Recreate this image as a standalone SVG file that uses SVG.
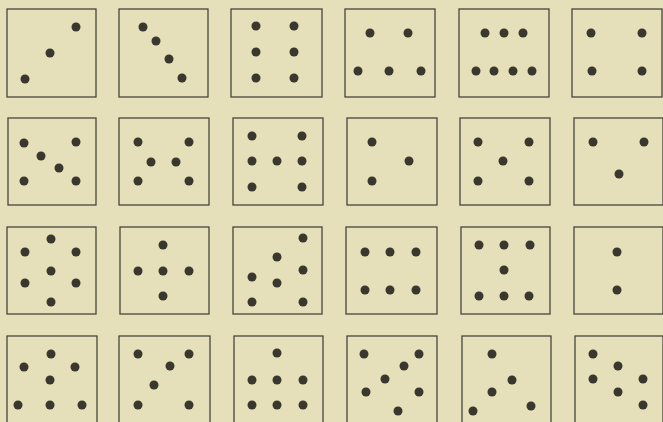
<svg xmlns="http://www.w3.org/2000/svg" width="663" height="422" viewBox="0 0 663 422">
<style>
.card{fill:none;stroke:#47453d;stroke-width:1.3}
.d{fill:#3a372e}
</style>
<defs><circle id="p" r="4.5" class="d"/></defs>
<rect width="663" height="422" fill="#e5dfba"/>
<g id="r1c1"><rect class="card" x="7" y="9" width="89" height="88"/><use href="#p" x="76" y="27"/><use href="#p" x="50" y="53"/><use href="#p" x="25" y="79"/></g>
<g id="r1c2"><rect class="card" x="119" y="9" width="89" height="88"/><use href="#p" x="143" y="27"/><use href="#p" x="156" y="41"/><use href="#p" x="169" y="59"/><use href="#p" x="182" y="78"/></g>
<g id="r1c3"><rect class="card" x="231" y="9" width="91" height="88"/><use href="#p" x="256" y="26"/><use href="#p" x="294" y="26"/><use href="#p" x="256" y="52"/><use href="#p" x="294" y="52"/><use href="#p" x="256" y="78"/><use href="#p" x="294" y="78"/></g>
<g id="r1c4"><rect class="card" x="345" y="9" width="90" height="88"/><use href="#p" x="370" y="33"/><use href="#p" x="408" y="33"/><use href="#p" x="358" y="71"/><use href="#p" x="389" y="71"/><use href="#p" x="421" y="71"/></g>
<g id="r1c5"><rect class="card" x="459" y="9" width="90" height="88"/><use href="#p" x="485" y="33"/><use href="#p" x="504" y="33"/><use href="#p" x="523" y="33"/><use href="#p" x="476" y="71"/><use href="#p" x="494" y="71"/><use href="#p" x="513" y="71"/><use href="#p" x="532" y="71"/></g>
<g id="r1c6"><rect class="card" x="572" y="9" width="90" height="88"/><use href="#p" x="591" y="33"/><use href="#p" x="642" y="33"/><use href="#p" x="592" y="71"/><use href="#p" x="642" y="71"/></g>

<g id="r2c1"><rect class="card" x="8" y="118" width="88" height="87"/><use href="#p" x="24" y="143"/><use href="#p" x="76" y="142"/><use href="#p" x="41" y="156"/><use href="#p" x="59" y="168"/><use href="#p" x="24" y="181"/><use href="#p" x="76" y="181"/></g>
<g id="r2c2"><rect class="card" x="119" y="118" width="90" height="87"/><use href="#p" x="138" y="142"/><use href="#p" x="189" y="142"/><use href="#p" x="151" y="162"/><use href="#p" x="176" y="162"/><use href="#p" x="138" y="181"/><use href="#p" x="189" y="181"/></g>
<g id="r2c3"><rect class="card" x="233" y="118" width="90" height="87"/><use href="#p" x="252" y="136"/><use href="#p" x="302" y="136"/><use href="#p" x="252" y="161"/><use href="#p" x="277" y="161"/><use href="#p" x="302" y="161"/><use href="#p" x="252" y="187"/><use href="#p" x="302" y="187"/></g>
<g id="r2c4"><rect class="card" x="347" y="118" width="90" height="87"/><use href="#p" x="372" y="142"/><use href="#p" x="409" y="161"/><use href="#p" x="372" y="181"/></g>
<g id="r2c5"><rect class="card" x="460" y="118" width="90" height="87"/><use href="#p" x="478" y="142"/><use href="#p" x="529" y="142"/><use href="#p" x="503" y="161"/><use href="#p" x="478" y="181"/><use href="#p" x="529" y="181"/></g>
<g id="r2c6"><rect class="card" x="574" y="118" width="89" height="87"/><use href="#p" x="593" y="142"/><use href="#p" x="644" y="142"/><use href="#p" x="619" y="174"/></g>

<g id="r3c1"><rect class="card" x="7" y="227" width="89" height="87"/><use href="#p" x="51" y="239"/><use href="#p" x="25" y="252"/><use href="#p" x="76" y="252"/><use href="#p" x="51" y="271"/><use href="#p" x="25" y="283"/><use href="#p" x="76" y="283"/><use href="#p" x="51" y="302"/></g>
<g id="r3c2"><rect class="card" x="120" y="227" width="89" height="87"/><use href="#p" x="163" y="245"/><use href="#p" x="138" y="271"/><use href="#p" x="163" y="271"/><use href="#p" x="189" y="271"/><use href="#p" x="163" y="296"/></g>
<g id="r3c3"><rect class="card" x="233" y="227" width="89" height="87"/><use href="#p" x="303" y="238"/><use href="#p" x="277" y="257"/><use href="#p" x="303" y="270"/><use href="#p" x="252" y="277"/><use href="#p" x="277" y="283"/><use href="#p" x="252" y="302"/><use href="#p" x="303" y="302"/></g>
<g id="r3c4"><rect class="card" x="346" y="227" width="91" height="87"/><use href="#p" x="365" y="252"/><use href="#p" x="390" y="252"/><use href="#p" x="416" y="252"/><use href="#p" x="365" y="290"/><use href="#p" x="390" y="290"/><use href="#p" x="416" y="290"/></g>
<g id="r3c5"><rect class="card" x="461" y="227" width="89" height="87"/><use href="#p" x="479" y="245"/><use href="#p" x="504" y="245"/><use href="#p" x="530" y="245"/><use href="#p" x="504" y="270"/><use href="#p" x="479" y="296"/><use href="#p" x="504" y="296"/><use href="#p" x="529" y="296"/></g>
<g id="r3c6"><rect class="card" x="574" y="227" width="89" height="87"/><use href="#p" x="617" y="252"/><use href="#p" x="617" y="290"/></g>

<g id="r4c1"><rect class="card" x="7" y="336" width="90" height="90"/><use href="#p" x="51" y="354"/><use href="#p" x="24" y="367"/><use href="#p" x="75" y="367"/><use href="#p" x="50" y="380"/><use href="#p" x="18" y="405"/><use href="#p" x="50" y="405"/><use href="#p" x="82" y="405"/></g>
<g id="r4c2"><rect class="card" x="119" y="336" width="91" height="90"/><use href="#p" x="138" y="354"/><use href="#p" x="189" y="354"/><use href="#p" x="170" y="366"/><use href="#p" x="154" y="385"/><use href="#p" x="138" y="405"/><use href="#p" x="189" y="405"/></g>
<g id="r4c3"><rect class="card" x="234" y="336" width="89" height="90"/><use href="#p" x="277" y="353"/><use href="#p" x="252" y="380"/><use href="#p" x="277" y="380"/><use href="#p" x="303" y="380"/><use href="#p" x="252" y="405"/><use href="#p" x="277" y="405"/><use href="#p" x="303" y="405"/></g>
<g id="r4c4"><rect class="card" x="347" y="336" width="90" height="90"/><use href="#p" x="364" y="354"/><use href="#p" x="419" y="354"/><use href="#p" x="404" y="366"/><use href="#p" x="385" y="379"/><use href="#p" x="366" y="392"/><use href="#p" x="419" y="392"/><use href="#p" x="398" y="411"/></g>
<g id="r4c5"><rect class="card" x="462" y="336" width="89" height="90"/><use href="#p" x="492" y="354"/><use href="#p" x="512" y="380"/><use href="#p" x="492" y="392"/><use href="#p" x="473" y="411"/><use href="#p" x="531" y="406"/></g>
<g id="r4c6"><rect class="card" x="575" y="336" width="88" height="90"/><use href="#p" x="593" y="354"/><use href="#p" x="618" y="366"/><use href="#p" x="593" y="379"/><use href="#p" x="643" y="379"/><use href="#p" x="618" y="392"/><use href="#p" x="643" y="405"/></g>
<g id="connectors"/>
</svg>
